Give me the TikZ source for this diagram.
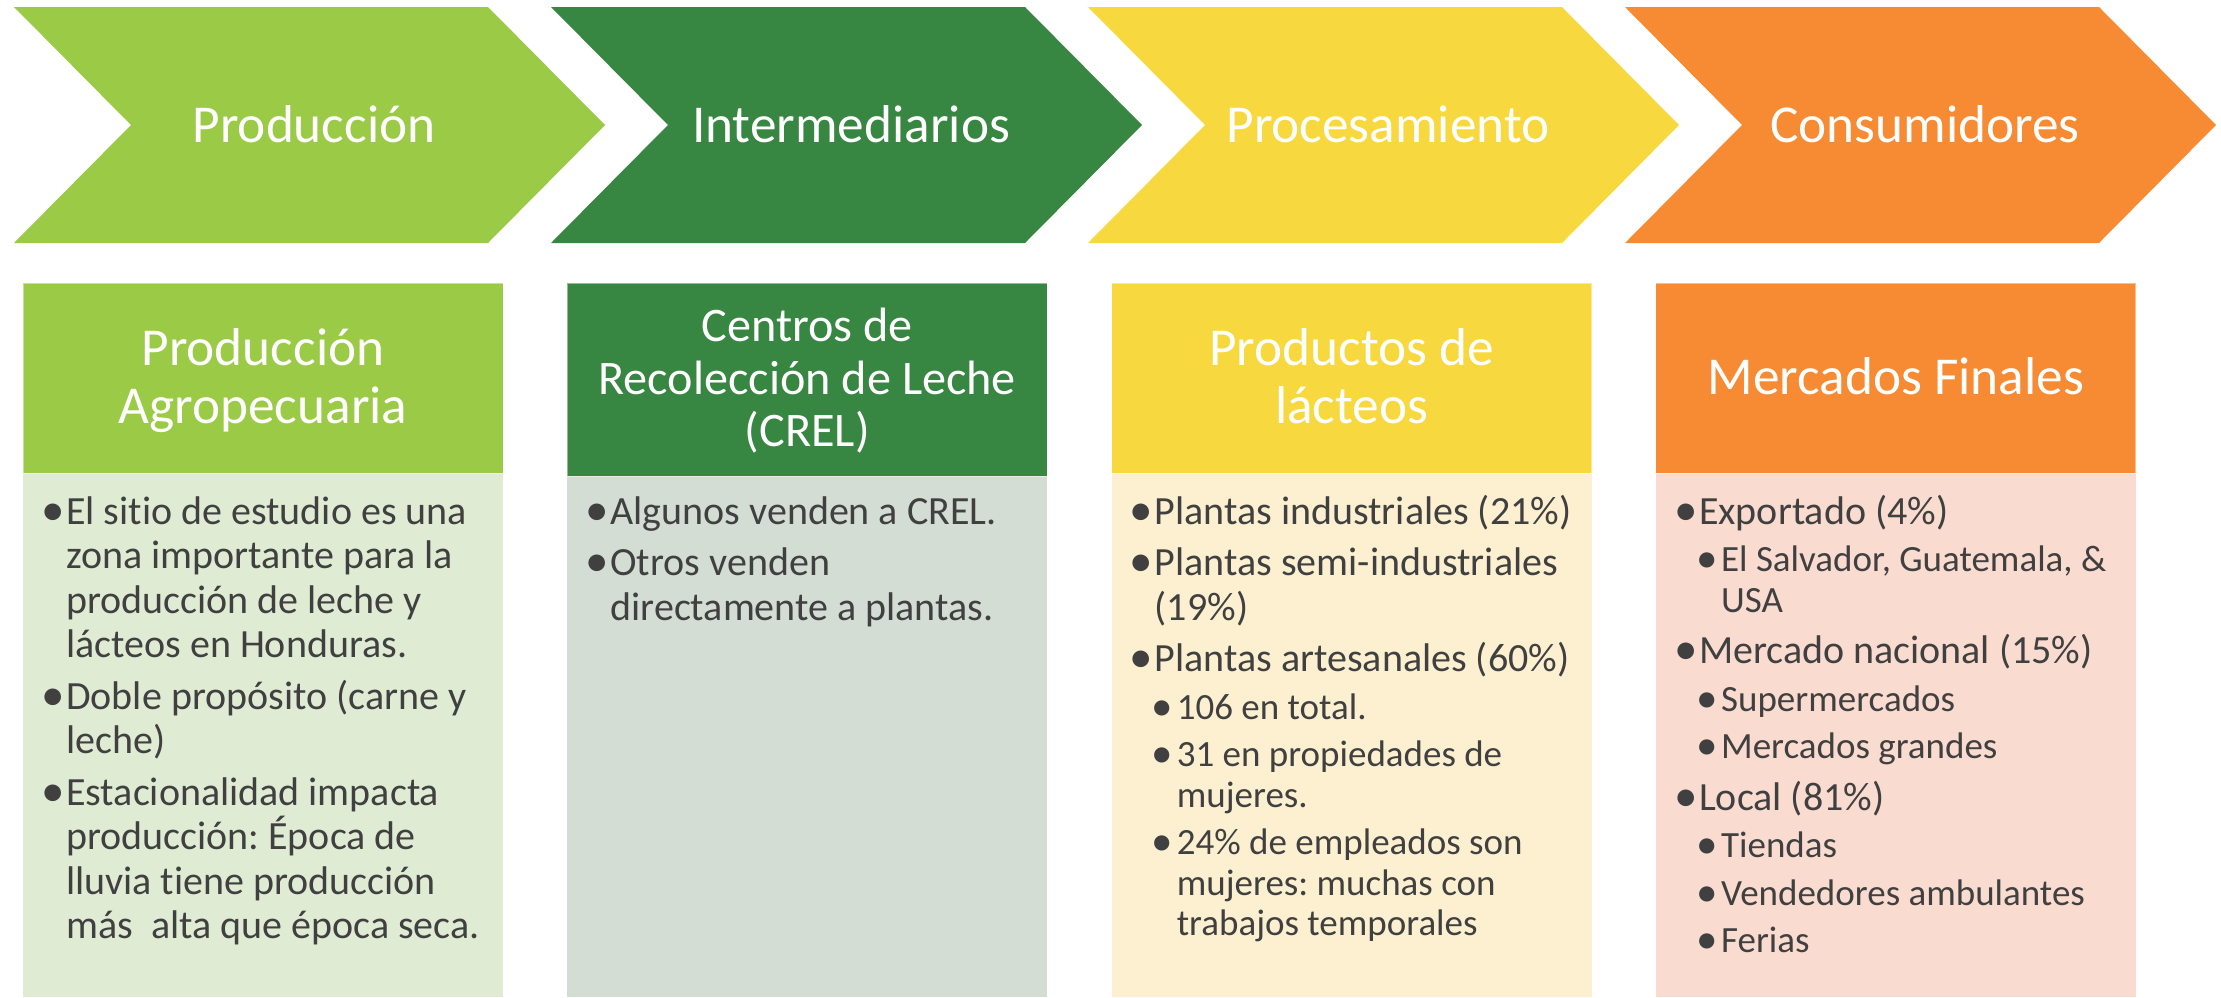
\documentclass[tikz,border=0pt]{standalone}
\usepackage{fontspec}
\setmainfont{Carlito}[Ligatures=NoCommon]
\usepackage{xcolor}
\definecolor{cProd}{HTML}{9BCA47}
\definecolor{cInter}{HTML}{378641}
\definecolor{cProc}{HTML}{F7D93F}
\definecolor{cCons}{HTML}{F68B34}
\definecolor{bProd}{HTML}{E0EBD3}
\definecolor{bInter}{HTML}{D3DDD4}
\definecolor{bProc}{HTML}{FCF0D1}
\definecolor{bCons}{HTML}{FADBD0}
\definecolor{txt}{HTML}{404040}
\frenchspacing
\newcommand*{\bul}[1]{\hspace*{-4pt}\raisebox{-1pt}{\fontsize{#1}{#1}\selectfont\textbullet}}
\newcommand*{\bA}[1]{\par\fontsize{40}{44.5}\selectfont\hangindent=21pt\hangafter=1\noindent\makebox[21pt][l]{\bul{47}}#1}
\newcommand*{\bB}[1]{\par\fontsize{37}{40.5}\selectfont\hangindent=43pt\hangafter=1\noindent\hspace*{22pt}\makebox[21pt][l]{\bul{43}}#1}
\newcommand{\hdr}[1]{\parbox[t]{470pt}{\centering\lineskiplimit=-100pt #1}}
\newcommand{\bodytxt}[1]{\parbox[t]{456pt}{\setlength{\parskip}{7pt}\lineskiplimit=-100pt #1}}

\begin{document}
\begin{tikzpicture}[x=1pt,y=-1pt,
  chev/.style={font=\fontsize{53.3}{58}\selectfont,text=white,anchor=base,inner sep=0pt},
  head/.style={font=\fontsize{53.3}{58}\selectfont,text=white,anchor=base,inner sep=0pt},
  body/.style={text=txt,anchor=base west,inner sep=0pt}]
	\useasboundingbox (0,0) rectangle (2221,997);
	\foreach \i/\fc/\bc/\hb/\ttl in {0/cProd/bProd/473/Producción,1/cInter/bInter/476/Intermediarios,2/cProc/bProc/473/Procesamiento,3/cCons/bCons/473/Consumidores}{
	    \pgfmathsetmacro{\chx}{14+537*\i}
	    \pgfmathsetmacro{\bxl}{23+544.3*\i}
	    \fill[\fc] (\chx,7) -- ++(474,0) -- ++(117,118) -- ++(-117,118) -- ++(-474,0) -- ++(117,-118) -- cycle;
	    \fill[\bc] (\bxl,\hb) rectangle (\bxl+480,997);
	    \filldraw[fill=\fc,draw=white,draw opacity=0.45,line width=1] (\bxl,283) rectangle (\bxl+480,\hb);
	    \node[chev] (chev\i) at (\chx+300,142) {\ttl};
	}
	% headers
	\node[head] (hProd) at (263,365.4) {\hdr{Producción\\Agropecuaria}};
	\node[head,font=\fontsize{48.2}{52.5}\selectfont] (hInter) at (807.3,341.5) {\hdr{Centros de\\Recolección de Leche\\(CREL)}};
	\node[head] (hProc) at (1351.6,365.4) {\hdr{Productos de\\lácteos}};
	\node[head] (hCons) at (1895.9,394.4) {\hdr{Mercados Finales}};
	% bullet lists
	\node[body] (tProd) at (45,524) {\bodytxt{%
	  \bA{El sitio de estudio es una\newline zona importante para la\newline producción de leche y\newline lácteos en Honduras.}
	  \bA{Doble propósito (carne y\newline leche)}
	  \bA{Estacionalidad impacta\newline producción: Época de\newline lluvia tiene producción\newline más\ \ alta que época seca.}}};
	\node[body] (tInter) at (589.3,524) {\bodytxt{%
	  \bA{Algunos venden a CREL.}
	  \bA{Otros venden\newline directamente a plantas.}}};
	\node[body] (tProc) at (1133.6,524) {\bodytxt{%
	  \bA{Plantas industriales (21\%)}
	  \bA{Plantas semi-industriales\newline (19\%)}
	  \bA{Plantas artesanales (60\%)}
	  \bB{106 en total.}
	  \bB{31 en propiedades de\newline mujeres.}
	  \bB{24\% de empleados son\newline mujeres: muchas con\newline trabajos temporales}}};
	\node[body] (tCons) at (1677.9,524) {\bodytxt{%
	  \bA{Exportado (4\%)}
	  \bB{El Salvador, Guatemala, \&\newline USA}
	  \bA{Mercado nacional (15\%)}
	  \bB{Supermercados}
	  \bB{Mercados grandes}
	  \bA{Local (81\%)}
	  \bB{Tiendas}
	  \bB{Vendedores ambulantes}
	  \bB{Ferias}}};
\end{tikzpicture}
\end{document}
